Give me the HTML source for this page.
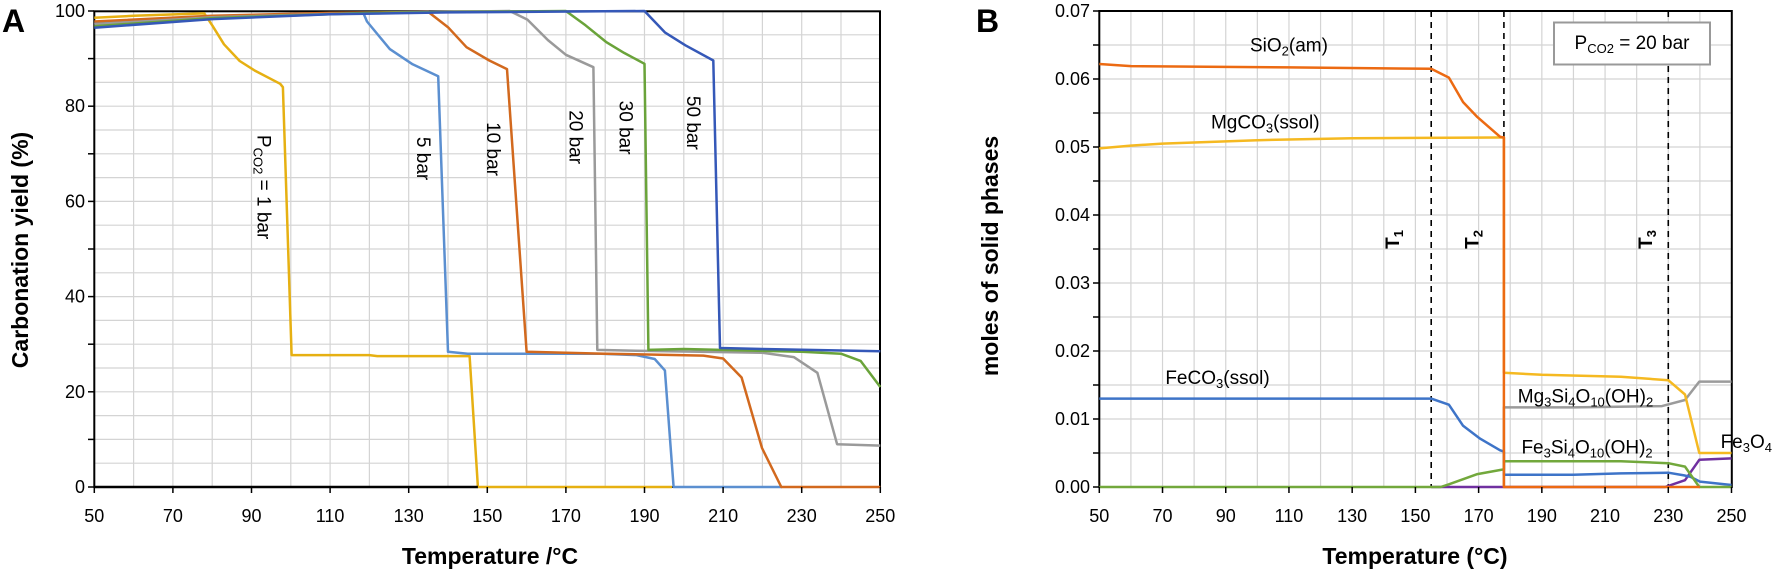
<!DOCTYPE html>
<html><head><meta charset="utf-8">
<style>
html,body{margin:0;padding:0;background:#fff;}
svg{display:block;font-family:"Liberation Sans",sans-serif;}
.t{font-size:18px;fill:#000;}
.l{font-size:19px;fill:#000;}
.b{font-weight:bold;}
</style></head>
<body>
<svg id="s" width="1772" height="575" viewBox="0 0 1772 575" xmlns="http://www.w3.org/2000/svg"></svg>
<script>
var s=document.getElementById('s');var h='';
function ln(x1,y1,x2,y2,c,w,d){h+='<line x1="'+x1+'" y1="'+y1+'" x2="'+x2+'" y2="'+y2+'" stroke="'+c+'" stroke-width="'+w+'"'+(d?' stroke-dasharray="'+d+'"':'')+'/>';}
function tx(x,y,t,a,cls,extra){h+='<text x="'+x+'" y="'+y+'" text-anchor="'+(a||'middle')+'" class="'+(cls||'t')+'" '+(extra||'')+'>'+t+'</text>';}
function pl(pts,X,Y,c,w){var d=pts.map(function(p,i){return (i?'L':'M')+X(p[0]).toFixed(1)+' '+Y(p[1]).toFixed(1);}).join(' ');h+='<path d="'+d+'" fill="none" stroke="'+c+'" stroke-width="'+(w||2.5)+'" stroke-linejoin="round"/>';}
// Panel A
var AX=function(t){return 94.3+(t-50)*3.93;},AY=function(v){return 487-v*4.76;};
for(var t=60;t<250;t+=10)ln(AX(t),11,AX(t),487,'#d4d4d4',1.2);
for(var v=5;v<100;v+=5)ln(94,AY(v),880,AY(v),'#d4d4d4',1.2);
h+='<rect x="94.3" y="11.3" width="785.7" height="475.7" fill="none" stroke="#000" stroke-width="2"/>';
var C={y:'#e6b012',lb:'#5b8fd0',o:'#d2691e',g:'#9a9a9a',gr:'#6aa33a',db:'#3558b8'};
pl([[50,98.6],[60,99],[78,99.5],[80,97],[83,93],[87,89.5],[90.8,87.5],[97.3,84.7],[98,84],[100.2,27.7],[120,27.7],[122,27.5],[145.5,27.5],[147.6,0],[197,0]],AX,AY,C.y);
pl([[50,97.5],[70,98.3],[100,99.2],[118.5,99.5],[119.4,97.8],[125.2,92],[131,88.8],[137.5,86.3],[140,28.4],[145,28],[179,28],[188,27.7],[192.6,26.9],[195.2,24.5],[197.4,0],[225,0]],AX,AY,C.lb);
pl([[50,97.8],[80,99],[110,99.6],[135,99.8],[140,96.6],[144.7,92.4],[150.5,89.6],[155,87.8],[160,28.4],[180,28],[205,27.6],[210,27],[214.7,23],[219.9,8.2],[224.8,0],[250,0]],AX,AY,C.o);
pl([[50,97.2],[80,98.7],[120,99.6],[155.7,100],[160.2,98.2],[165.4,93.9],[170,90.8],[177,88.2],[178,28.8],[190,28.6],[220,28.2],[228,27.3],[234,24],[239,9],[250,8.7]],AX,AY,C.g);
pl([[50,96.8],[80,98.5],[120,99.6],[170,100],[175,97],[180.2,93.5],[184.8,91.2],[190,88.9],[191,28.8],[200,29],[230,28.4],[240,28],[245,26.5],[250,21]],AX,AY,C.gr);
pl([[50,96.5],[80,98.3],[110,99.3],[140,99.7],[190,100],[195.2,95.5],[200.4,92.8],[207.5,89.6],[209.2,29.2],[220,29],[250,28.5]],AX,AY,C.db);
ln(94,487,AX(147.6),487,'#000',2.5);
for(var v=0;v<=100;v+=10){ln(88,AY(v),94,AY(v),'#000',1.5);}
for(var v=0;v<=100;v+=20)tx(85,AY(v)+6,v,'end');
for(var t=50;t<=250;t+=20){ln(AX(t),487,AX(t),493,'#000',1.5);tx(AX(t),522,t);}
tx(490,564,'Temperature /°C','middle','t b','style="font-size:23px"');
tx(0,0,'Carbonation yield (%)','middle','t b','style="font-size:23px" transform="translate(28,250) rotate(-90)"');
tx(2,32,'A','start','t b','style="font-size:32px"');
function rot(t,v,str){tx(0,0,str,'middle','l','transform="translate('+(AX(t)-6)+','+AY(v)+') rotate(90)"');}
rot(93,63,'P<tspan font-size="13" dy="4">CO2</tspan><tspan dy="-4"> = 1 bar</tspan>');
rot(133.6,69,'5 bar');rot(151.5,71,'10 bar');rot(172.5,73.5,'20 bar');rot(185.2,75.5,'30 bar');rot(202.4,76.5,'50 bar');
// Panel B
var BX=function(t){return 1099.3+(t-50)*3.161;},BY=function(v){return 487-v*6800;};
for(var t=60;t<250;t+=10)ln(BX(t),11,BX(t),487,'#d4d4d4',1.2);
for(var v=0.005;v<0.0699;v+=0.005)ln(1099,BY(v),1732,BY(v),'#d4d4d4',1.2);
h+='<rect x="1099.3" y="11" width="632.5" height="476" fill="none" stroke="#000" stroke-width="2"/>';
[155,178,230].forEach(function(t){ln(BX(t),11,BX(t),487,'#000',1.6,'6,5');});
var B={o:'#ec6a12',y:'#f5b921',bl:'#3e74c8',gr:'#72a83c',g:'#9b9b9b',p:'#7030a0'};
pl([[155,0],[229,0],[235.3,0.001],[239.8,0.004],[250,0.0042]],BX,BY,B.p);
pl([[178,0],[178,0.0117],[200,0.0117],[228,0.0119],[235.3,0.0128],[239.8,0.0155],[250,0.0155]],BX,BY,B.g);
pl([[50,0.013],[155,0.013],[160.6,0.0121],[165.1,0.009],[170.5,0.0071],[176.8,0.0054],[178,0.0052],[178,0.0018],[200,0.0018],[215,0.002],[230,0.0021],[235,0.0017],[237,0.0015],[240,0.0008],[250,0.0003]],BX,BY,B.bl);
pl([[50,0],[158,0],[160.6,0.0004],[169.6,0.0019],[176.8,0.0025],[178,0.0026],[178,0.0038],[215,0.0038],[230,0.0035],[235.3,0.003],[239.8,0],[250,0]],BX,BY,B.gr);
pl([[50,0.0498],[60,0.0502],[70,0.0505],[100,0.051],[130,0.0513],[176,0.0514],[178,0.0514],[178,0.0168],[190,0.0165],[215,0.0162],[230,0.0157],[235.3,0.0136],[239.8,0.005],[250,0.005]],BX,BY,B.y);
pl([[50,0.0622],[60,0.0619],[110,0.0617],[155,0.0615],[160.6,0.0602],[165.1,0.0566],[169.6,0.0544],[176.8,0.0515],[178,0.0514],[178,0],[240,0]],BX,BY,B.o);
for(var i=0;i<=14;i++){var v=i*0.005;ln(1093,BY(v),1099,BY(v),'#000',1.5);}
for(var i=0;i<=7;i++)tx(1090,BY(i*0.01)+6,(i*0.01).toFixed(2),'end');
for(var t=50;t<=250;t+=20){ln(BX(t),487,BX(t),493,'#000',1.5);tx(BX(t),522,t);}
tx(1415,564,'Temperature (°C)','middle','t b','style="font-size:23px"');
tx(0,0,'moles of solid phases','middle','t b','style="font-size:23px" transform="translate(998,256) rotate(-90)"');
tx(976,32,'B','start','t b','style="font-size:32px"');
function sb(n){return '<tspan font-size="13" dy="4">'+n+'</tspan><tspan dy="-4">';}
tx(BX(110),BY(0.0649)+6,'SiO'+sb('2')+'(am)</tspan>','middle','l');
tx(BX(102.5),BY(0.0536)+6,'MgCO'+sb('3')+'(ssol)</tspan>','middle','l');
tx(BX(87.4),BY(0.016)+6,'FeCO'+sb('3')+'(ssol)</tspan>','middle','l');
tx(BX(203.8),BY(0.0133)+6,'Mg'+sb('3')+'Si</tspan>'+sb('4')+'O</tspan>'+sb('10')+'(OH)</tspan>'+sb('2')+'</tspan>','middle','l');
tx(BX(204.3),BY(0.0058)+6,'Fe'+sb('3')+'Si</tspan>'+sb('4')+'O</tspan>'+sb('10')+'(OH)</tspan>'+sb('2')+'</tspan>','middle','l');
tx(1772,BY(0.0066)+6,'Fe'+sb('3')+'O</tspan>'+sb('4')+'</tspan>','end','l');
function tl(t,n){tx(0,0,'T<tspan font-size="13" dy="4">'+n+'</tspan>','middle','l b','transform="translate('+(BX(t)+7)+','+BY(0.0364)+') rotate(-90)"');}
tl(142.6,'1');tl(167.8,'2');tl(222.7,'3');
h+='<rect x="1554" y="22.5" width="156" height="42" fill="#fff" stroke="#999" stroke-width="2"/>';
tx(1632,49,'P'+sb('CO2')+' = 20 bar</tspan>','middle','l');
s.innerHTML=h;
</script>
</body></html>
